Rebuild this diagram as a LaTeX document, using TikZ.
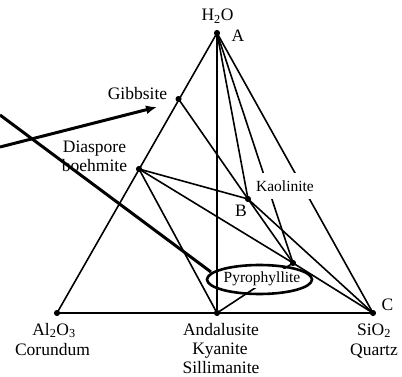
\documentclass[tikz,border=0pt]{standalone}
\usepackage{fontspec}
\setmainfont{Liberation Serif}
\usetikzlibrary{arrows.meta,shapes.geometric}
\begin{document}
\begin{tikzpicture}[x=1pt,y=-1pt,
  tl/.style={line width=1.6pt},
  thk/.style={line width=3pt},
  dot/.style={circle,fill=black,inner sep=0pt,minimum size=5.5pt},
  big/.style={font=\fontsize{17.5}{19.5}\selectfont,inner sep=0pt},
  small/.style={font=\fontsize{15.5}{17}\selectfont},
  wbox/.style={small,fill=white,inner xsep=1pt,inner ysep=0pt}]
\useasboundingbox (0,0) rectangle (402,377);
% points
\node[dot] (A)  at (217,33)  {};
\node[dot] (G)  at (178.5,99) {};
\node[dot] (D)  at (139,169) {};
\node[dot] (Bp) at (248,199) {};
\node[dot] (P)  at (293,263) {};
\node[dot] (Al) at (57,313)  {};
\node[dot] (An) at (217,313) {};
\node[dot] (C)  at (373,313) {};
% thin tie lines
\draw[tl] (A.center) -- (Al.center) -- (C.center) -- cycle;
\draw[tl] (A.center) -- (An.center);
\draw[tl] (A.center) -- (Bp.center);
\draw[tl] (A.center) -- (P.center);
\draw[tl] (G.center) -- (Bp.center) -- (P.center);
\draw[tl] (Bp.center) -- (C.center);
\draw[tl] (D.center) -- (Bp.center);
\draw[tl] (D.center) -- (P.center) -- (C.center);
\draw[tl] (D.center) -- (An.center);
\draw[tl] (An.center) -- (P.center);
% labels with white background
\node[wbox,anchor=base,text height=19pt,text depth=7pt] (lK) at (285,192) {Kaolinite};
\node[wbox,anchor=base,text height=14pt,text depth=5pt] (lP) at (262,283) {Pyrophyllite};
\node[draw,line width=2.6pt,ellipse,minimum width=105pt,minimum height=29pt,inner sep=0pt] (ell) at (259.5,279.5) {};
% thick arrows
\coordinate (s1) at (0,147);
\coordinate (t1) at (157,107);
\coordinate (s2) at (0,115);
\coordinate (e2) at (211,272);
\draw[thk,-{Latex[length=11pt,width=9pt]}] (s1) -- (t1);
\draw[thk] (s2) -- (e2);
% dots on top
\foreach \p in {A,G,D,Bp,P,Al,An,C} \fill (\p) circle (3pt);
% labels
\node[big,anchor=base] (lH) at (217.5,21) {H\textsubscript{2}O};
\node[big,anchor=base] (lA) at (238,42) {A};
\node[big,anchor=base] (lG) at (137.5,100) {Gibbsite};
\node[big,anchor=base] (lD) at (94.5,153) {Diaspore};
\node[big,anchor=base] (lbo) at (94.5,172) {boehmite};
\node[big,anchor=base] (lB) at (241,217) {B};
\node[big,anchor=base] (lC) at (387.5,310) {C};
\node[big,anchor=base] (lAl) at (54,335) {Al\textsubscript{2}O\textsubscript{3}};
\node[big,anchor=base] (lCo) at (52.5,355) {Corundum};
\node[big,anchor=base] (lAn) at (221,335) {Andalusite};
\node[big,anchor=base] (lKy) at (220,354) {Kyanite};
\node[big,anchor=base] (lSi) at (221,373) {Sillimanite};
\node[big,anchor=base] (lS) at (374,335) {SiO\textsubscript{2}};
\node[big,anchor=base] (lQ) at (374,355) {Quartz};
\end{tikzpicture}
\end{document}
